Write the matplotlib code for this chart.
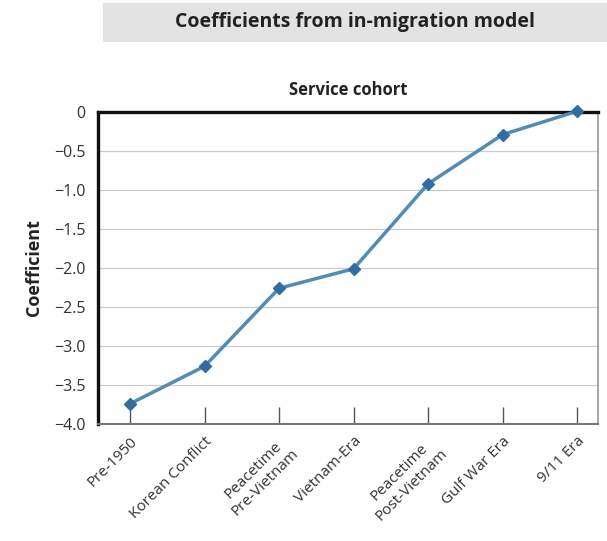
import matplotlib
matplotlib.use('Agg')
import matplotlib.pyplot as plt
from matplotlib.patches import Rectangle

plt.rcParams['font.family'] = ['Open Sans', 'DejaVu Sans']

# Data
cohorts = ['Pre-1950', 'Korean Conflict', 'Peacetime\nPre-Vietnam', 'Vietnam-Era',
           'Peacetime\nPost-Vietnam', 'Gulf War Era', '9/11 Era']
coefs = [-3.74, -3.26, -2.26, -2.01, -0.92, -0.29, 0.01]
yticks = [0, -0.5, -1.0, -1.5, -2.0, -2.5, -3.0, -3.5, -4.0]
ylabels = ['0', '\u22120.5', '\u22121.0', '\u22121.5', '\u22122.0', '\u22122.5',
           '\u22123.0', '\u22123.5', '\u22124.0']

fig = plt.figure(figsize=(6.07, 5.41), dpi=100)
ax = fig.add_axes([98 / 607, 1 - 424 / 541, 500 / 607, 312 / 541])

# Title bar
fig.patches.append(Rectangle((103 / 607, 1 - 42 / 541), 504 / 607, 39 / 541,
                             transform=fig.transFigure, facecolor='#e3e3e3',
                             edgecolor='none', zorder=0))
fig.text(355 / 607, 1 - 22 / 541, 'Coefficients from in-migration model',
         ha='center', va='center', fontsize=14, fontweight='bold', color='#222222')

x = list(range(len(cohorts)))
ax.plot(x, coefs, color='#4f8db9', lw=2.5, marker='D', markersize=6,
        markerfacecolor='#2f6ea3', markeredgecolor='#2f6ea3', clip_on=False, zorder=3)

ax.set_xlim(-0.43, 6.28)
ax.set_ylim(-4.0, 0)
ax.set_yticks(yticks)
ax.set_yticklabels(ylabels)
ax.set_xticks(x)
ax.set_xticklabels(cohorts, rotation=45, ha='right', rotation_mode='anchor',
                   multialignment='center')
ax.tick_params(axis='x', length=12, width=1, color='#555555', labelsize=11,
               labelcolor='#333333', direction='in', pad=7)
ax.tick_params(axis='y', length=0, labelsize=11.5, labelcolor='#333333', pad=9)

ax.grid(axis='y', color='#cccccc', lw=0.9)
ax.set_axisbelow(True)

ax.spines['top'].set_linewidth(2.4)
ax.spines['top'].set_color('#111111')
ax.spines['left'].set_linewidth(2.4)
ax.spines['left'].set_color('#111111')
ax.spines['bottom'].set_linewidth(1.5)
ax.spines['bottom'].set_color('#777777')
ax.spines['right'].set_linewidth(1.2)
ax.spines['right'].set_color('#999999')

ax.set_title('Service cohort', fontsize=12, fontweight='bold', color='#222222', pad=12)
ax.set_ylabel('Coefficient', fontsize=13, fontweight='bold', color='#222222', labelpad=8)

fig.savefig('out.png', dpi=100)
